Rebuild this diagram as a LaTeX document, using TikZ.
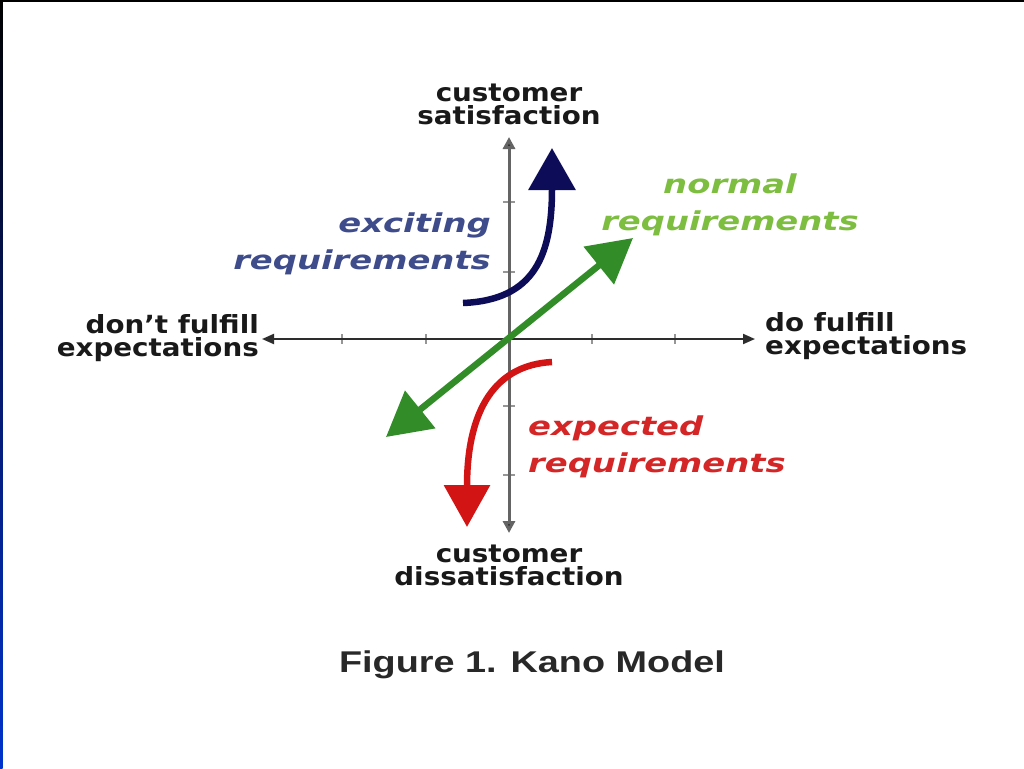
\documentclass[tikz,border=0pt]{standalone}
\usepackage{fontspec}
\usetikzlibrary{arrows.meta}
\newfontfamily\axfont[FakeStretch=1.11]{DejaVu Sans}
\newfontfamily\reqfont[FakeStretch=1.3]{DejaVu Sans}
\newfontfamily\capfont[FakeStretch=1.26]{Liberation Sans}
\definecolor{axisdark}{RGB}{45,45,45}
\definecolor{axisgray}{RGB}{100,100,100}
\definecolor{tickgray}{RGB}{150,150,150}
\definecolor{labelblack}{RGB}{25,25,25}
\definecolor{excitingtxt}{RGB}{62,76,140}
\definecolor{normaltxt}{RGB}{125,190,65}
\definecolor{expectedtxt}{RGB}{212,38,38}
\definecolor{navyarrow}{RGB}{12,12,88}
\definecolor{greenarrow}{RGB}{50,140,40}
\definecolor{redarrow}{RGB}{210,20,20}
\definecolor{captiontxt}{RGB}{40,40,40}
\definecolor{edgeblue}{RGB}{0,51,204}
\tikzset{
  axlabel/.style={font=\axfont\bfseries\fontsize{25}{23}\selectfont, text=labelblack, inner sep=0pt},
  reqlabel/.style={font=\reqfont\bfseries\itshape\fontsize{26}{37}\selectfont, inner sep=0pt},
  axisline/.style={line width=2pt, draw=axisdark, {Triangle[length=12pt,width=10pt]}-{Triangle[length=12pt,width=10pt]}},
  vaxisline/.style={line width=3pt, draw=axisgray, {Triangle[length=12pt,width=12pt,fill=axisdark]}-{Triangle[length=12pt,width=12pt,fill=axisdark]}},
  tickmark/.style={line width=2pt, draw=tickgray},
  bigarrow/.style={line width=6.5pt},
}
\begin{document}
\begin{tikzpicture}[x=1pt,y=-1pt]
\useasboundingbox (0,0) rectangle (1024,768);
\fill[white] (0,0) rectangle (1024,768);
% frame edges
\fill[black] (0,0) rectangle (1024,2.5);
\shade[top color=black, bottom color=edgeblue, middle color={rgb,255:red,5;green,25;blue,110}] (0,0) rectangle (2.5,768);

% axis coordinates
\coordinate (O) at (509,339);
\coordinate (L) at (262,339);
\coordinate (R) at (755,339);
\coordinate (T) at (509,137);
\coordinate (B) at (509,533);

% ticks
\foreach \tx in {342,426,592,675} \draw[tickmark] (\tx,334) -- (\tx,344);
\foreach \ty in {202,272,406,475} \draw[tickmark] (503,\ty) -- (515,\ty);

\draw[axisline] (L) -- (R);
\draw[vaxisline] (B) -- (T);

% axis labels (anchor=base is the baseline of the last line)
\node[axlabel, align=center, anchor=base] (sat) at (509,124) {customer\\satisfaction};
\node[axlabel, align=center, anchor=base] (dis) at (509,585) {customer\\dissatisfaction};
\node[axlabel, align=right, anchor=base east] (dont) at (259,356) {don’t fulfill\\expectations};
\node[axlabel, align=left, anchor=base west] (do) at (765,354) {do fulfill\\expectations};

% requirement labels
\node[reqlabel, text=excitingtxt, align=right, anchor=base east] (exc) at (491,269) {exciting\\requirements};
\node[reqlabel, text=normaltxt, align=center, anchor=base] (nor) at (730,230) {normal\\requirements};
\node[reqlabel, text=expectedtxt, align=left, anchor=base west] (exp) at (528,472) {expected\\requirements};

% green double arrow
\coordinate (gA) at (386,437);
\coordinate (gB) at (633,238);
\draw[line width=6.5pt, draw=greenarrow, {Triangle[length=44pt,width=47pt,fill=greenarrow]}-{Triangle[length=44pt,width=47pt,fill=greenarrow]}] (gA) -- (gB);

% navy curved arrow (exciting)
\coordinate (nS) at (463,303);
\coordinate (nE) at (552,148);
\draw[bigarrow, draw=navyarrow, -{Triangle[length=42pt,width=46pt,fill=navyarrow]}] (nS) .. controls (535,300) and (552,255) .. (nE);

% red curved arrow (expected)
\coordinate (rS) at (552,362);
\coordinate (rE) at (467,527);
\draw[bigarrow, draw=redarrow, -{Triangle[length=42pt,width=45pt,fill=redarrow]}] (rS) .. controls (495,365) and (467,410) .. (rE);

% caption
\node[font=\capfont\bfseries\fontsize{30}{34}\selectfont, text=captiontxt, inner sep=0pt, anchor=base] (cap) at (532,672) {Figure 1. Kano Model};
\end{tikzpicture}
\end{document}
